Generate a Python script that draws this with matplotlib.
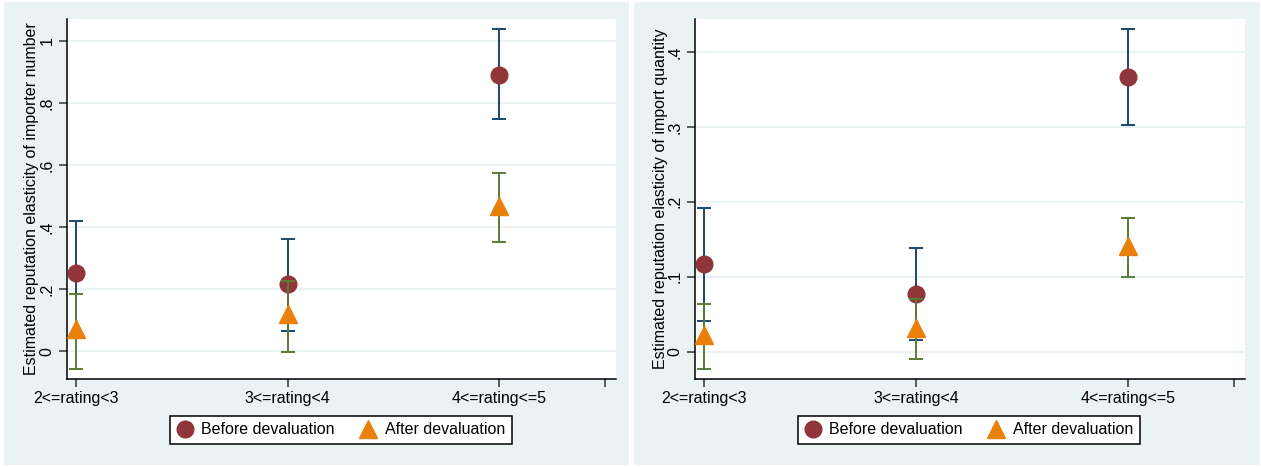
import matplotlib
matplotlib.use("Agg")
import matplotlib.pyplot as plt
from matplotlib.patches import Rectangle
from matplotlib.lines import Line2D

plt.rcParams["font.family"] = ["Liberation Sans", "DejaVu Sans"]

categories = ["2<=rating<3", "3<=rating<4", "4<=rating<=5"]
xpos = [1, 2, 3]

# panel 1: importer number
num_before = [0.250, 0.215, 0.891]
num_before_lo = [0.055, 0.066, 0.747]
num_before_hi = [0.418, 0.362, 1.037]
num_after = [0.071, 0.119, 0.469]
num_after_lo = [-0.058, -0.002, 0.350]
num_after_hi = [0.184, 0.227, 0.575]

# panel 2: import quantity
qty_before = [0.117, 0.077, 0.367]
qty_before_lo = [0.041, 0.015, 0.303]
qty_before_hi = [0.192, 0.138, 0.430]
qty_after = [0.022, 0.032, 0.141]
qty_after_lo = [-0.023, -0.010, 0.100]
qty_after_hi = [0.064, 0.070, 0.179]

num_ticks = [0, 0.2, 0.4, 0.6, 0.8, 1.0]
num_ticklabels = ["0", ".2", ".4", ".6", ".8", "1"]
qty_ticks = [0, 0.1, 0.2, 0.3, 0.4]
qty_ticklabels = ["0", ".1", ".2", ".3", ".4"]

BG = "#EAF2F3"
RED = "#903539"
ORANGE = "#E8800A"
NAVY = "#1A476F"
OLIVE = "#5B7B36"
FS = 11.5

W, H = 1261, 467
fig = plt.figure(figsize=(W / 100, H / 100), dpi=100)
fig.patch.set_facecolor("white")

# panel backgrounds
for x0, x1 in [(4, 629), (634, 1260)]:
    fig.add_artist(Rectangle((x0 / W, 1 - 465 / H), (x1 - x0) / W, 463 / H,
                             transform=fig.transFigure, facecolor=BG,
                             edgecolor="none", zorder=0))


def panel(rect, before, blo, bhi, after, alo, ahi, ylim, yt, ytl, ylabel,
          legend_x):
    ax = fig.add_axes(rect)
    ax.set_facecolor("white")
    err = lambda v, lo, hi: [[a - b for a, b in zip(v, lo)],
                             [c - a for a, c in zip(v, hi)]]
    ax.errorbar(xpos, before, yerr=err(before, blo, bhi), fmt="none",
                ecolor=NAVY, elinewidth=1.4, capsize=5, capthick=1.4,
                zorder=3)
    ax.plot(xpos, before, "o", ms=12, color=RED, mec=RED, zorder=4)
    ax.errorbar(xpos, after, yerr=err(after, alo, ahi), fmt="none",
                ecolor=OLIVE, elinewidth=1.4, capsize=5, capthick=1.4,
                zorder=5)
    ax.plot(xpos, after, "^", ms=13, color=ORANGE, mec=ORANGE, zorder=6)

    ax.set_xlim(0.957, 3.553)
    ax.set_xticks(xpos + [3.5])
    ax.set_xticklabels(categories + [""], fontsize=FS)
    ax.set_ylim(*ylim)
    ax.set_yticks(yt)
    ax.set_yticklabels(ytl, fontsize=FS, rotation=90, va="center")
    ax.yaxis.grid(True, color=BG, lw=1.6)
    ax.set_axisbelow(True)
    for s in ["top", "right"]:
        ax.spines[s].set_visible(False)
    for s in ["left", "bottom"]:
        ax.spines[s].set_linewidth(1.1)
        ax.spines[s].set_color("black")
    ax.tick_params(length=6, width=1.1, color="#333333", pad=3)
    ax.set_ylabel(ylabel, fontsize=FS, labelpad=0)

    handles = [Line2D([], [], marker="o", ls="none", ms=12, color=RED),
               Line2D([], [], marker="^", ls="none", ms=13, color=ORANGE)]
    leg = ax.legend(handles, ["Before devaluation", "After devaluation"],
                    loc="center", bbox_to_anchor=(legend_x / W, 1 - 430 / H),
                    bbox_transform=fig.transFigure, ncol=2, fontsize=FS,
                    frameon=True, fancybox=False, edgecolor="black",
                    framealpha=1, handlelength=1.0, handletextpad=0.55,
                    columnspacing=1.6, borderpad=0.4, borderaxespad=0)
    leg.get_frame().set_linewidth(1.1)
    return ax


panel([67 / W, 1 - 379 / H, 549 / W, 360 / H],
      num_before, num_before_lo, num_before_hi,
      num_after, num_after_lo, num_after_hi,
      (-0.090, 1.070), num_ticks, num_ticklabels,
      "Estimated reputation elasticity of importer number", 341)

panel([695 / W, 1 - 379 / H, 550 / W, 360 / H],
      qty_before, qty_before_lo, qty_before_hi,
      qty_after, qty_after_lo, qty_after_hi,
      (-0.0365, 0.444), qty_ticks, qty_ticklabels,
      "Estimated reputation elasticity of import quantity", 969)

fig.savefig("out.png", dpi=100)
